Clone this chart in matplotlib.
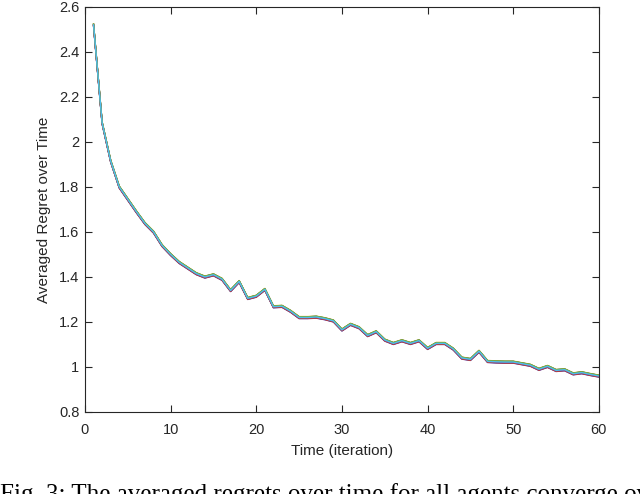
import numpy as np
import matplotlib.pyplot as plt

# -------------------------------
# Data
# -------------------------------
time = np.arange(1, 61)
mean_regret = [2.52, 2.085, 1.915, 1.80, 1.745, 1.69, 1.638, 1.60, 1.54, 1.50,
               1.465, 1.44, 1.415, 1.40, 1.41, 1.39, 1.34, 1.38, 1.305, 1.315,
               1.345, 1.268, 1.27, 1.248, 1.22, 1.22, 1.222, 1.215, 1.205, 1.165,
               1.19, 1.175, 1.14, 1.157, 1.12, 1.105, 1.117, 1.105, 1.117, 1.083,
               1.105, 1.105, 1.08, 1.04, 1.034, 1.07, 1.025, 1.023, 1.022, 1.022,
               1.015, 1.008, 0.99, 1.003, 0.985, 0.988, 0.97, 0.975, 0.967, 0.96]

# small spread between agents (curves nearly overlap)
agent_offsets = [-0.004, 0.002, 0.004, -0.005, 0.001, 0.000, -0.002,
                 0.003, -0.003, 0.002, -0.001, 0.003, 0.000]

matlab_colors = ["#0072BD", "#D95319", "#EDB120", "#7E2F8E",
                 "#77AC30", "#4DBEEE", "#A2142F"]

x_ticks = [0, 10, 20, 30, 40, 50, 60]
y_ticks = [0.8, 1, 1.2, 1.4, 1.6, 1.8, 2, 2.2, 2.4, 2.6]
y_labels = ["0.8", "1", "1.2", "1.4", "1.6", "1.8", "2", "2.2", "2.4", "2.6"]

caption = "Fig. 3: The averaged regrets over time for all agents converge over"

# -------------------------------
# Plot
# -------------------------------
plt.rcParams['font.family'] = ['Liberation Sans', 'DejaVu Sans']

fig = plt.figure(figsize=(6.4, 4.94), dpi=100)
ax = fig.add_axes([0.1328, 0.166, 0.803, 0.820])

base = np.array(mean_regret)
for i, off in enumerate(agent_offsets):
    ax.plot(time, base + off, color=matlab_colors[i % 7], linewidth=1.0)

ax.set_xlim(0, 60)
ax.set_ylim(0.8, 2.6)
ax.set_xticks(x_ticks)
ax.set_yticks(y_ticks)
ax.set_yticklabels(y_labels)

axis_gray = "#262626"
for side in ax.spines.values():
    side.set_color(axis_gray)
    side.set_linewidth(0.8)
ax.tick_params(direction='in', length=5, width=0.8, colors=axis_gray,
               top=True, right=True, labelsize=10.5)
ax.tick_params(axis='x', pad=8)
ax.tick_params(axis='y', pad=4)

ax.set_xlabel("Time (iteration)", fontsize=11, color=axis_gray, labelpad=5)
ax.set_ylabel("Averaged Regret over Time", fontsize=11, color=axis_gray, labelpad=6)

# caption of the paper figure, cut off by the image edge as in the source
fig.text(0.0, -0.015, caption, family='Liberation Serif', fontsize=18,
         ha='left', va='baseline')

fig.savefig("out.png", dpi=100)
